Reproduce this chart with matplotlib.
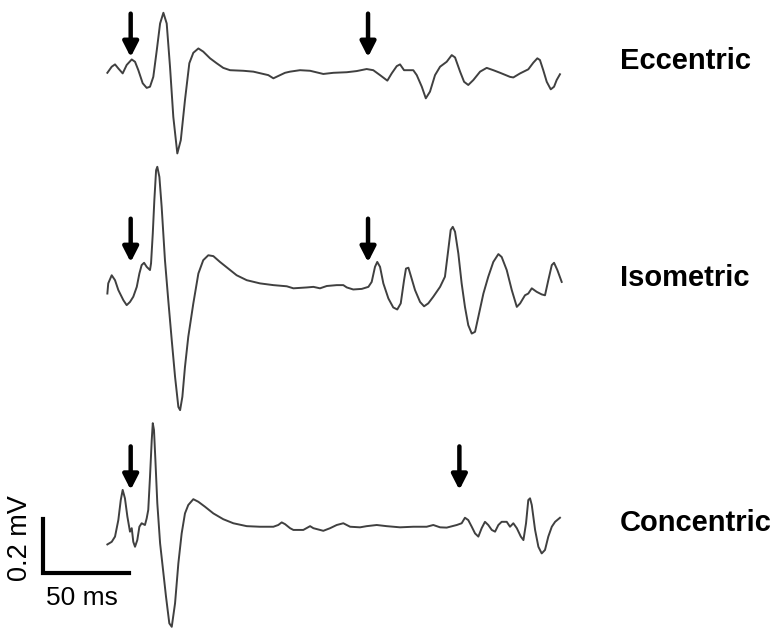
import numpy as np
import matplotlib
matplotlib.use('Agg')
import matplotlib.pyplot as plt

plt.rcParams['font.family'] = ['Liberation Sans', 'DejaVu Sans']

# Traces: time (ms) and amplitude (mV) relative to baseline
ecc_t = [0.2, 2.7, 4.6, 6.5, 9.0, 11.3, 14.2, 16.1, 18.0, 20.5, 22.8, 24.7, 26.6, 28.6, 30.5, 32.4,
         34.3, 36.2, 38.1, 40.4, 42.4, 44.8, 47.3, 49.6, 52.5, 55.3, 59.2, 63.0, 66.8, 70.7, 78.3,
         84.1, 89.8, 92.7, 95.6, 98.4, 102.3, 105.2, 110.9, 116.7, 124.3, 130.1, 137.8, 143.5, 149.2,
         153.0, 156.9, 161.1, 163.6, 166.5, 168.4, 170.7, 173.2, 176.0, 178.0, 180.9, 183.2, 185.6,
         188.5, 191.4, 195.2, 198.1, 200.0, 202.9, 205.2, 207.6, 210.5, 214.4, 218.2, 222.0, 225.9,
         231.6, 233.5, 237.4, 242.1, 245.0, 247.3, 248.8, 250.7, 252.7, 255.0, 256.9, 258.4, 260.3]
ecc_v = [-0.006, 0.015, 0.023, 0.009, -0.008, 0.021, 0.040, 0.032, 0.003, -0.042, -0.058, -0.054,
         -0.020, 0.072, 0.164, 0.201, 0.164, 0.015, -0.158, -0.284, -0.238, -0.100, 0.027, 0.063,
         0.078, 0.067, 0.044, 0.027, 0.011, 0.003, 0.001, -0.002, -0.010, -0.014, -0.025, -0.017,
         -0.006, -0.002, 0.003, 0.001, -0.010, -0.006, -0.004, 0.000, 0.007, 0.003, -0.014, -0.033,
         -0.008, 0.017, 0.023, 0.003, 0.003, 0.003, -0.014, -0.054, -0.094, -0.071, -0.014, 0.015,
         0.032, 0.055, 0.047, -0.002, -0.037, -0.048, -0.031, -0.002, 0.011, 0.003, -0.006, -0.020,
         -0.022, -0.008, 0.006, 0.029, 0.044, 0.038, 0.003, -0.037, -0.063, -0.054, -0.031, -0.011]

iso_t = [0.2, 0.7, 2.7, 4.6, 6.5, 9.4, 11.3, 13.2, 15.1, 17.1, 18.6, 19.9, 21.3, 22.8, 24.7, 25.3,
         26.3, 27.2, 28.2, 28.9, 30.1, 31.4, 33.3, 35.2, 37.2, 39.1, 41.0, 42.0, 43.3, 44.8, 46.7,
         49.6, 52.5, 55.3, 58.2, 61.1, 64.9, 69.7, 74.5, 80.3, 87.9, 95.6, 103.3, 107.1, 114.8,
         118.6, 122.4, 126.3, 132.0, 135.8, 137.8, 141.5, 146.4, 150.2, 152.1, 154.0, 155.3, 156.9,
         158.8, 161.7, 164.5, 166.8, 168.8, 170.7, 171.8, 173.2, 174.5, 177.0, 179.9, 182.2, 184.6,
         187.5, 191.4, 194.2, 196.1, 197.5, 198.7, 200.0, 201.9, 203.8, 205.7, 207.6, 209.6, 211.5,
         213.4, 216.3, 219.1, 222.0, 224.9, 226.8, 229.7, 232.6, 235.5, 237.4, 240.2, 242.1, 244.1,
         246.9, 249.8, 251.7, 253.6, 255.6, 256.9, 258.8, 261.3]
iso_v = [-0.022, 0.013, 0.041, 0.024, -0.010, -0.045, -0.062, -0.051, -0.033, 0.001, 0.047, 0.076,
         0.084, 0.070, 0.059, 0.082, 0.185, 0.300, 0.403, 0.415, 0.380, 0.277, 0.093, -0.045,
         -0.183, -0.309, -0.413, -0.424, -0.378, -0.275, -0.171, -0.056, 0.047, 0.093, 0.110, 0.107,
         0.087, 0.064, 0.041, 0.024, 0.013, 0.007, 0.003, -0.004, -0.001, 0.001, -0.004, 0.004,
         0.007, 0.007, -0.001, -0.008, -0.006, 0.001, 0.018, 0.070, 0.087, 0.070, 0.013, -0.039,
         -0.070, -0.077, -0.056, 0.024, 0.064, 0.067, 0.041, -0.010, -0.051, -0.066, -0.056, -0.033,
         0.001, 0.036, 0.128, 0.197, 0.208, 0.191, 0.116, 0.013, -0.068, -0.131, -0.160, -0.154,
         -0.102, -0.022, 0.036, 0.087, 0.114, 0.104, 0.059, -0.010, -0.068, -0.056, -0.028, -0.022,
         -0.004, -0.016, -0.025, -0.028, 0.024, 0.076, 0.084, 0.059, 0.018]

con_t = [0.2, 2.7, 4.6, 6.5, 7.9, 9.0, 10.3, 11.7, 13.2, 14.2, 15.1, 16.1, 17.4, 18.6, 19.9, 21.8,
         22.8, 23.7, 24.7, 25.7, 26.3, 27.0, 27.8, 28.9, 30.5, 32.0, 33.9, 35.8, 37.2, 39.1, 41.0,
         42.9, 44.8, 46.7, 49.6, 52.5, 56.3, 61.1, 66.8, 72.6, 80.3, 87.9, 95.6, 98.4, 100.4, 102.3,
         105.2, 107.1, 112.8, 116.7, 118.6, 124.3, 128.2, 132.0, 135.8, 139.7, 145.4, 149.2, 155.0,
         160.7, 168.4, 176.0, 183.7, 187.5, 191.4, 195.2, 201.0, 203.8, 205.7, 207.6, 209.6, 211.5,
         213.4, 215.3, 217.2, 219.1, 221.1, 223.0, 224.9, 226.8, 229.7, 231.6, 233.5, 235.5, 237.8,
         239.3, 240.8, 242.1, 243.1, 244.1, 246.0, 247.9, 249.8, 251.7, 253.6, 255.6, 257.5, 260.3]
con_v = [-0.060, -0.051, -0.033, 0.024, 0.093, 0.128, 0.099, 0.036, -0.016, -0.004, -0.051, -0.068,
         -0.045, 0.001, 0.013, 0.007, 0.030, 0.059, 0.173, 0.300, 0.358, 0.334, 0.231, 0.082,
         -0.056, -0.137, -0.240, -0.332, -0.344, -0.263, -0.125, -0.022, 0.047, 0.076, 0.096, 0.087,
         0.070, 0.047, 0.027, 0.013, 0.003, 0.001, 0.001, 0.007, 0.016, 0.010, -0.004, -0.010,
         -0.010, 0.003, -0.004, -0.013, -0.004, 0.007, 0.013, 0.001, -0.001, 0.003, 0.007, 0.003,
         -0.001, 0.001, 0.001, 0.007, -0.001, -0.002, 0.007, 0.013, 0.032, 0.024, 0.001, -0.022,
         -0.033, -0.004, 0.018, 0.007, -0.010, -0.016, 0.007, 0.018, 0.018, 0.001, 0.013, -0.004,
         -0.033, -0.045, 0.013, 0.093, 0.099, 0.076, -0.010, -0.068, -0.091, -0.079, -0.033, 0.001,
         0.018, 0.032]

labels = ['Eccentric', 'Isometric', 'Concentric']
onsets = [[13.6, 150.0], [13.6, 150.0], [13.6, 202.5]]  # arrow times (ms)

traces = [(ecc_t, ecc_v), (iso_t, iso_v), (con_t, con_v)]
offsets = [0.0, -0.745, -1.572]
arrow_tip = [0.048, 0.086, 0.128]
label_y = [0.007, 0.003, -0.014]

fig = plt.figure(figsize=(7.78, 6.3), dpi=100)
ax = fig.add_axes([0, 0, 1, 1])
ax.set_xlim(-61.5, 385.6)
ax.set_ylim(-1.927, 0.245)
ax.axis('off')

for (t, v), off, lab, ons, tip, ly in zip(traces, offsets, labels, onsets, arrow_tip, label_y):
    ax.plot(t, np.array(v) + off, color='#404040', lw=1.4)
    for a in ons:
        ax.annotate('', xy=(a, off + tip), xytext=(a, off + tip + 0.15),
                    arrowprops=dict(arrowstyle='-|>,head_width=0.23,head_length=0.45',
                                    mutation_scale=20, lw=3.2, color='black',
                                    shrinkA=0, shrinkB=0))
    ax.text(294.8, off + ly, lab, fontsize=21, fontweight='bold', ha='left', va='baseline')

# scale bar
ax.plot([-36.8, -36.8, 12.6], [-1.545, -1.731, -1.731], color='black', lw=3,
        solid_joinstyle='miter')
ax.text(-50.0, -1.610, '0.2 mV', rotation=90, fontsize=19.5, ha='center', va='center')
ax.text(-14.4, -1.841, '50 ms', fontsize=19, ha='center', va='baseline')

plt.savefig('out.png', dpi=100)
plt.close()
